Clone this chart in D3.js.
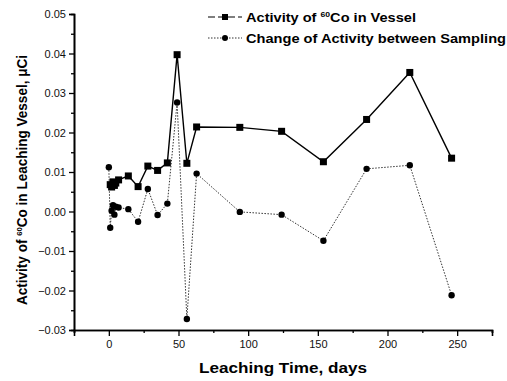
<!DOCTYPE html>
<html>
<head>
<meta charset="utf-8">
<script src="https://cdn.jsdelivr.net/npm/d3@7"></script>
<style>
  body { margin: 0; background: #fff; }
  text { font-family: "Liberation Sans", Arial, sans-serif; }
</style>
</head>
<body>
<div id="chart"></div>
<script>
const width = 507;
const height = 381;

// Activity of 60Co in vessel (squares, solid)
const vesselDays = [1, 2, 3, 4, 5, 7, 14, 21, 28, 35, 42, 49, 56, 63, 94, 124, 154, 185, 216, 246];
const vesselActivity = [0.0068, 0.0062, 0.0075, 0.0066, 0.0072, 0.0080, 0.0090, 0.0063, 0.0115, 0.0104, 0.0123, 0.0397, 0.0122, 0.0214, 0.0213, 0.0203, 0.0126, 0.0233, 0.0352, 0.0135];

// Change of activity between sampling (circles, dotted)
const changeDays = [0, 1, 2, 3, 4, 5, 7, 14, 21, 28, 35, 42, 49, 56, 63, 94, 124, 154, 185, 216, 246];
const changeActivity = [0.0112, -0.0041, 0.0002, 0.0016, -0.0008, 0.0012, 0.0010, 0.0006, -0.0026, 0.0057, -0.0009, 0.0020, 0.0276, -0.0272, 0.0096, -0.0001, -0.0008, -0.0074, 0.0108, 0.0117, -0.0212];

const xTicks = [0, 50, 100, 150, 200, 250];
const yTicks = [-0.03, -0.02, -0.01, 0.00, 0.01, 0.02, 0.03, 0.04, 0.05];

const x = d3.scaleLinear().domain([-25, 275]).range([74, 492]);
const y = d3.scaleLinear().domain([-0.03, 0.05]).range([330, 14]);

const svg = d3.select("#chart").append("svg")
  .attr("width", width)
  .attr("height", height)
  .attr("viewBox", [0, 0, width, height]);

// axes, major + minor ticks
const xAxis = svg.append("g")
  .attr("transform", "translate(0," + y(-0.03) + ")")
  .call(d3.axisBottom(x).tickValues(xTicks).tickSize(6).tickPadding(4).tickFormat(d3.format("d")));
xAxis.append("g")
  .call(d3.axisBottom(x).tickValues(d3.range(-25, 276, 50)).tickSize(3).tickFormat(""));

const yAxis = svg.append("g")
  .attr("transform", "translate(" + x(-25) + ",0)")
  .call(d3.axisLeft(y).tickValues(yTicks).tickSize(5).tickPadding(3).tickFormat(d3.format(".2f")));
yAxis.append("g")
  .call(d3.axisLeft(y).tickValues(d3.range(-0.025, 0.05, 0.01)).tickSize(3).tickFormat(""));

svg.selectAll(".domain").attr("stroke", "#000").attr("stroke-width", 1.6);
svg.selectAll(".tick line").attr("stroke", "#000").attr("stroke-width", 1.3);
svg.selectAll(".tick text").style("font-size", "11px").attr("fill", "#111");

// lines
const vesselData = vesselDays.map((d, i) => [d, vesselActivity[i]]);
const changeData = changeDays.map((d, i) => [d, changeActivity[i]]);
const line = d3.line().x(d => x(d[0])).y(d => y(d[1]));

svg.append("path")
  .datum(changeData)
  .attr("fill", "none")
  .attr("stroke", "#333")
  .attr("stroke-width", 1)
  .attr("stroke-dasharray", "1.5,1.5")
  .attr("d", line);

svg.append("path")
  .datum(vesselData)
  .attr("fill", "none")
  .attr("stroke", "#000")
  .attr("stroke-width", 1.4)
  .attr("d", line);

svg.selectAll(".sq")
  .data(vesselData)
  .join("rect")
  .attr("class", "sq")
  .attr("x", d => x(d[0]) - 3.5)
  .attr("y", d => y(d[1]) - 3.5)
  .attr("width", 7)
  .attr("height", 7)
  .attr("fill", "#000");

svg.selectAll(".dot")
  .data(changeData)
  .join("circle")
  .attr("class", "dot")
  .attr("cx", d => x(d[0]))
  .attr("cy", d => y(d[1]))
  .attr("r", 3.2)
  .attr("fill", "#000");

// legend
const legend = svg.append("g");
legend.append("line").attr("x1", 208).attr("x2", 242).attr("y1", 17).attr("y2", 17)
  .attr("stroke", "#000").attr("stroke-width", 1.2).attr("stroke-dasharray", "7,3");
legend.append("rect").attr("x", 222).attr("y", 14).attr("width", 6).attr("height", 6).attr("fill", "#000");
legend.append("line").attr("x1", 208).attr("x2", 242).attr("y1", 38).attr("y2", 38)
  .attr("stroke", "#333").attr("stroke-width", 1).attr("stroke-dasharray", "1.5,1.5");
legend.append("circle").attr("cx", 225).attr("cy", 38).attr("r", 3).attr("fill", "#000");

const t1 = legend.append("text").attr("x", 246).attr("y", 22)
  .style("font-size", "13.5px").style("font-weight", "bold")
  .attr("textLength", 170).attr("lengthAdjust", "spacingAndGlyphs");
t1.append("tspan").text("Activity of ");
t1.append("tspan").text("60").style("font-size", "8px").attr("dy", -5);
t1.append("tspan").text("Co in Vessel").attr("dy", 5);

legend.append("text").attr("x", 246).attr("y", 43)
  .style("font-size", "13.5px").style("font-weight", "bold")
  .attr("textLength", 260).attr("lengthAdjust", "spacingAndGlyphs")
  .text("Change of Activity between Sampling");

// axis titles
svg.append("text")
  .attr("x", 283).attr("y", 373)
  .attr("text-anchor", "middle")
  .style("font-size", "14.5px").style("font-weight", "bold")
  .attr("textLength", 168).attr("lengthAdjust", "spacingAndGlyphs")
  .text("Leaching Time, days");

const yl = svg.append("text")
  .attr("transform", "translate(27,180) rotate(-90)")
  .attr("text-anchor", "middle")
  .style("font-size", "14px").style("font-weight", "bold")
  .attr("textLength", 250).attr("lengthAdjust", "spacingAndGlyphs");
yl.append("tspan").text("Activity of ");
yl.append("tspan").text("60").style("font-size", "8px").attr("dy", -5);
yl.append("tspan").text("Co in Leaching Vessel, \u03bcCi").attr("dy", 5);
</script>
</body>
</html>
